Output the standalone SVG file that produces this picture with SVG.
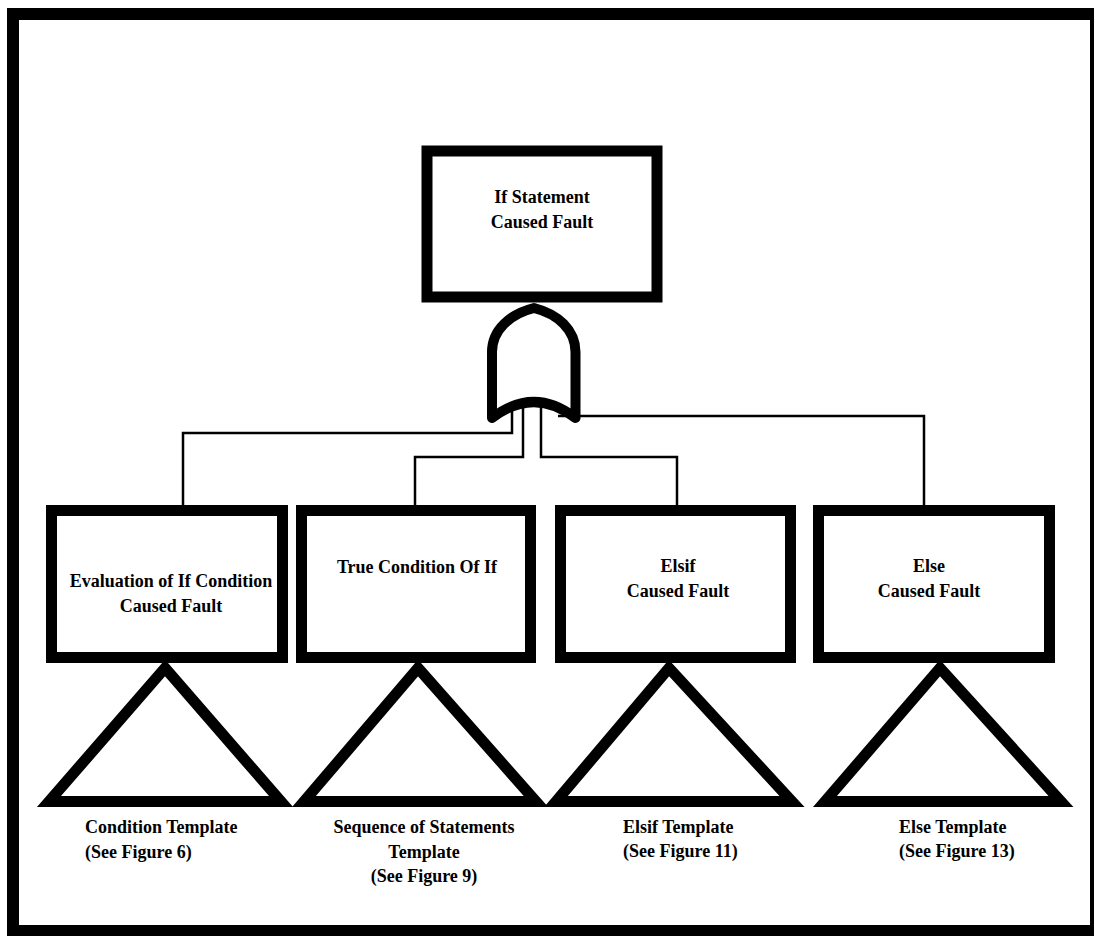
<svg xmlns="http://www.w3.org/2000/svg" width="1095" height="937" viewBox="0 0 1095 937">
  <style>
    .box { fill: #fff; stroke: #000; stroke-width: 11; }
    .tri { fill: #fff; stroke: #000; stroke-width: 11; stroke-linejoin: miter; }
    .gate { fill: #fff; stroke: #000; stroke-width: 10; stroke-linejoin: round; }
    .wire { fill: none; stroke: #000; stroke-width: 2.5; }
    text { font-family: "Liberation Serif", "Times New Roman", serif; font-weight: bold; font-size: 18px; fill: #000; }
    .c { text-anchor: middle; }
  </style>

  <rect x="0" y="0" width="1095" height="937" fill="#fff"/>

  <!-- page frame -->
  <path d="M7,8 H1094 V936 H7 Z M19,20 V925 H1090 V20 Z" fill="#000" fill-rule="evenodd"/>

  <!-- connectors from the OR gate to the four sub-events -->
  <g id="connectors">
    <path class="wire" d="M512,405 V433 H183 V506"/>
    <path class="wire" d="M523,400 V457 H415 V506"/>
    <path class="wire" d="M541,398 V457 H677 V506"/>
    <path class="wire" d="M558,416 H924 V506"/>
  </g>

  <!-- top event -->
  <g id="top-event">
    <rect class="box" x="427" y="151" width="230" height="146"/>
    <text class="c" x="542" y="203">If Statement</text>
    <text class="c" x="542" y="228">Caused Fault</text>
  </g>

  <!-- OR gate -->
  <g id="or-gate">
    <path class="gate" d="M492,418 V352 C492,330 510,314 534,308 C558,314 575.5,330 575.5,352 V418 Q534,386 492,418 Z"/>
  </g>

  <g id="evaluation">
    <rect class="box" x="51.5" y="510.5" width="231" height="147"/>
    <text class="c" x="171" y="587">Evaluation of If Condition</text>
    <text class="c" x="171" y="612">Caused Fault</text>
  </g>

  <g id="true-condition">
    <rect class="box" x="301.5" y="510.5" width="229" height="147"/>
    <text class="c" x="417" y="573">True Condition Of If</text>
  </g>

  <g id="elsif">
    <rect class="box" x="560.5" y="510.5" width="230" height="147"/>
    <text class="c" x="678" y="572">Elsif</text>
    <text class="c" x="678" y="597">Caused Fault</text>
  </g>

  <g id="else">
    <rect class="box" x="818.5" y="510.5" width="231" height="147"/>
    <text class="c" x="929" y="572">Else</text>
    <text class="c" x="929" y="597">Caused Fault</text>
  </g>

  <!-- transfer triangles -->
  <g id="condition-template">
    <polygon class="tri" points="165,668 49,801.5 281,801.5"/>
    <text x="85" y="833">Condition Template</text>
    <text x="85" y="858">(See Figure 6)</text>
  </g>

  <g id="sequence-template">
    <polygon class="tri" points="418,668 304,801.5 536,801.5"/>
    <text class="c" x="424" y="833">Sequence of Statements</text>
    <text class="c" x="424" y="858">Template</text>
    <text class="c" x="424" y="882">(See Figure 9)</text>
  </g>

  <g id="elsif-template">
    <polygon class="tri" points="669,668 556,801.5 792,801.5"/>
    <text x="623" y="833">Elsif Template</text>
    <text x="623" y="857">(See Figure 11)</text>
  </g>

  <g id="else-template">
    <polygon class="tri" points="940,668 825,801.5 1061,801.5"/>
    <text x="899" y="833">Else Template</text>
    <text x="899" y="857">(See Figure 13)</text>
  </g>
</svg>
